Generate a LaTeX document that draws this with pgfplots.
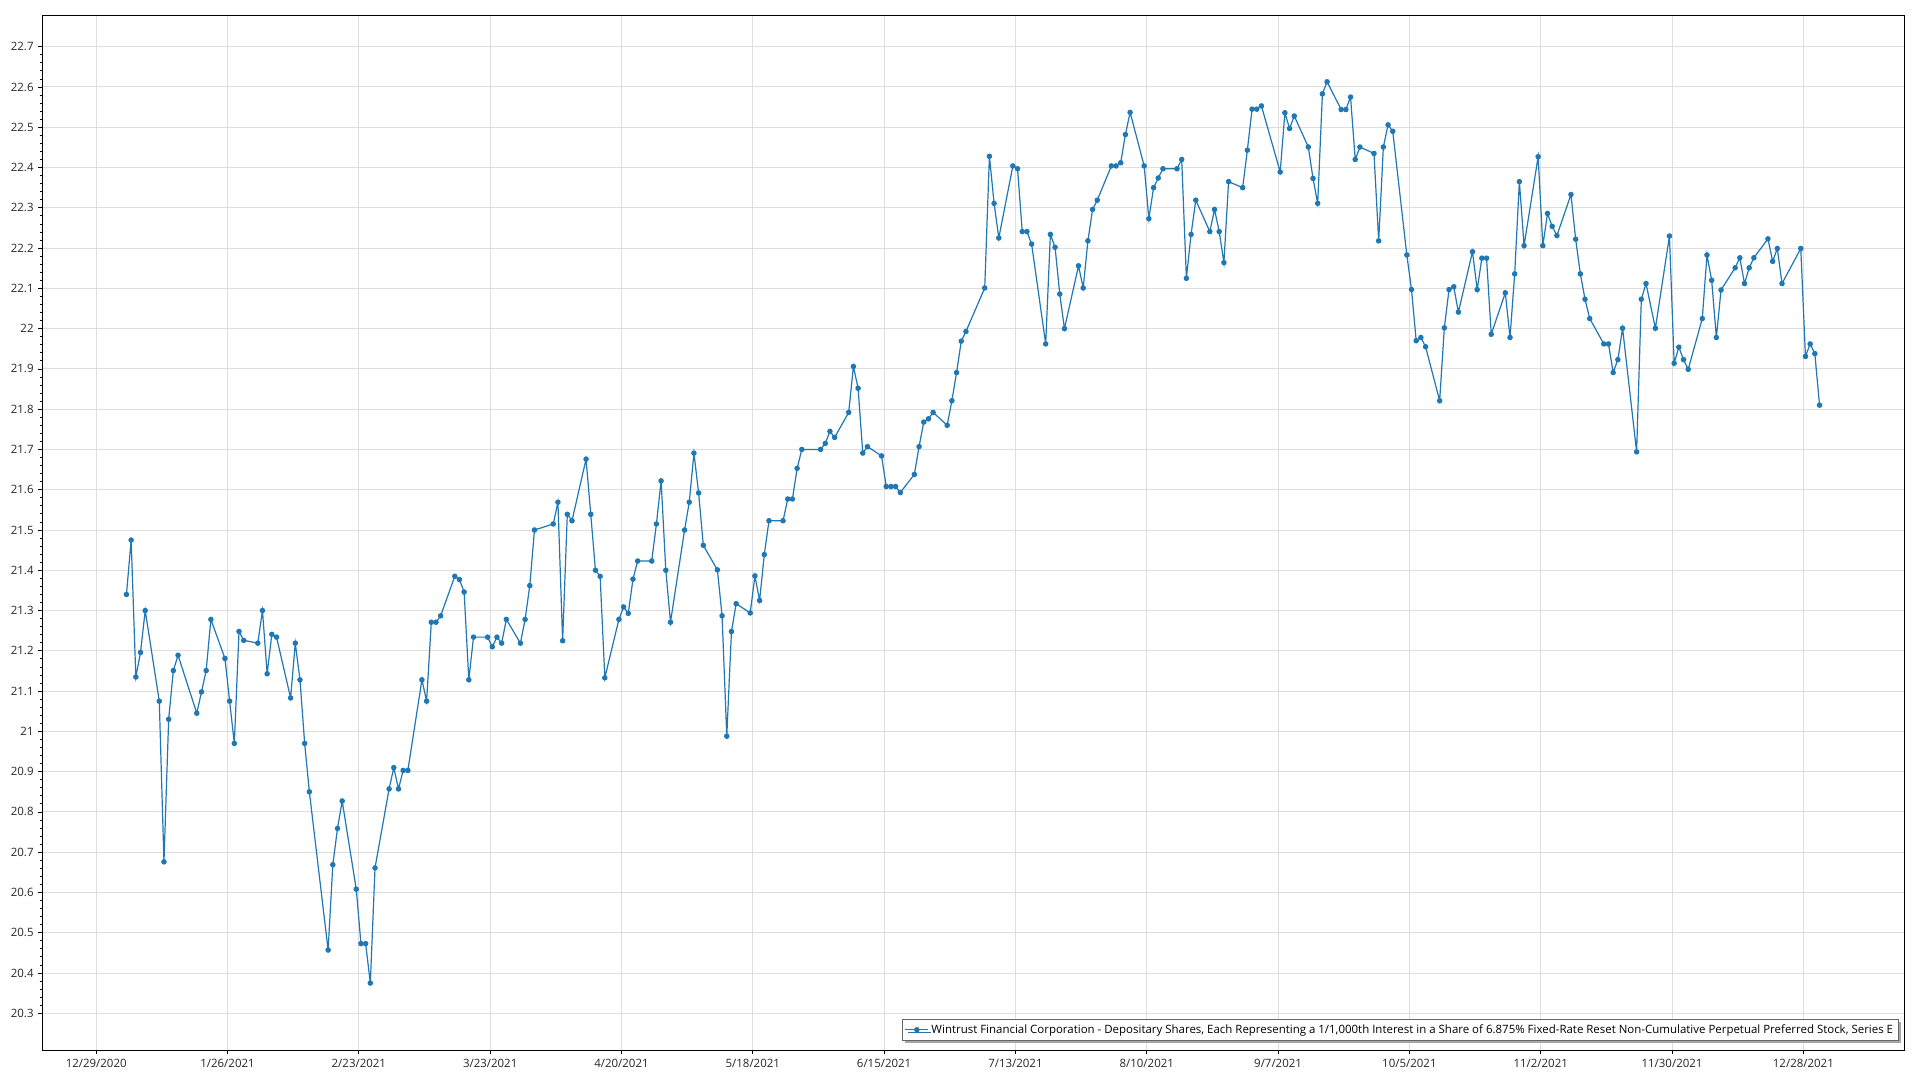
\documentclass[border=0pt]{standalone}
\usepackage{pgfplots}
\pgfplotsset{compat=1.18}
\usepackage{pgfplotstable}
\usepackage{fontspec}
\setmainfont{Open Sans}
\usetikzlibrary{shadows}
\definecolor{series}{RGB}{31,119,180}
\pgfplotstableread{
d v
6 21.34
7 21.475
8 21.135
9 21.196
10 21.30
13 21.075
14 20.676
15 21.03
16 21.151
17 21.189
21 21.045
22 21.098
23 21.151
24 21.278
27 21.181
28 21.075
29 20.97
30 21.248
31 21.226
34 21.219
35 21.30
36 21.143
37 21.241
38 21.234
41 21.083
42 21.219
43 21.128
44 20.97
45 20.85
49 20.457
50 20.669
51 20.759
52 20.827
55 20.608
56 20.473
57 20.473
58 20.375
59 20.661
62 20.857
63 20.91
64 20.857
65 20.903
66 20.903
69 21.128
70 21.075
71 21.271
72 21.271
73 21.287
76 21.385
77 21.377
78 21.346
79 21.128
80 21.234
83 21.234
84 21.21
85 21.234
86 21.219
87 21.278
90 21.219
91 21.278
92 21.362
93 21.50
97 21.515
98 21.569
99 21.225
100 21.539
101 21.523
104 21.676
105 21.539
106 21.40
107 21.385
108 21.133
111 21.278
112 21.309
113 21.293
114 21.378
115 21.423
118 21.423
119 21.515
120 21.622
121 21.40
122 21.271
125 21.50
126 21.569
127 21.691
128 21.592
129 21.462
132 21.401
133 21.287
134 20.988
135 21.248
136 21.317
139 21.294
140 21.386
141 21.325
142 21.439
143 21.523
146 21.523
147 21.577
148 21.577
149 21.653
150 21.70
154 21.70
155 21.715
156 21.745
157 21.73
160 21.792
161 21.906
162 21.852
163 21.691
164 21.707
167 21.684
168 21.608
169 21.608
170 21.608
171 21.593
174 21.638
175 21.707
176 21.768
177 21.776
178 21.792
181 21.76
182 21.821
183 21.891
184 21.969
185 21.993
189 22.101
190 22.428
191 22.311
192 22.225
195 22.404
196 22.397
197 22.241
198 22.241
199 22.21
202 21.962
203 22.234
204 22.202
205 22.086
206 22.00
209 22.156
210 22.101
211 22.218
212 22.296
213 22.319
216 22.404
217 22.404
218 22.412
219 22.482
220 22.537
223 22.404
224 22.273
225 22.35
226 22.374
227 22.397
230 22.397
231 22.42
232 22.125
233 22.234
234 22.319
237 22.241
238 22.296
239 22.241
240 22.164
241 22.365
244 22.35
245 22.443
246 22.545
247 22.545
248 22.553
252 22.389
253 22.536
254 22.497
255 22.528
258 22.451
259 22.373
260 22.311
261 22.583
262 22.613
265 22.544
266 22.544
267 22.575
268 22.42
269 22.451
272 22.435
273 22.218
274 22.451
275 22.506
276 22.49
279 22.183
280 22.097
281 21.97
282 21.978
283 21.955
286 21.821
287 22.002
288 22.097
289 22.104
290 22.041
293 22.191
294 22.097
295 22.175
296 22.175
297 21.986
300 22.089
301 21.978
302 22.136
303 22.365
304 22.206
307 22.427
308 22.206
309 22.286
310 22.254
311 22.231
314 22.333
315 22.222
316 22.136
317 22.073
318 22.025
321 21.962
322 21.962
323 21.891
324 21.923
325 22.001
328 21.694
329 22.073
330 22.112
332 22.001
335 22.23
336 21.914
337 21.954
338 21.923
339 21.899
342 22.025
343 22.183
344 22.12
345 21.978
346 22.096
349 22.151
350 22.176
351 22.112
352 22.151
353 22.176
356 22.223
357 22.167
358 22.199
359 22.112
363 22.199
364 21.931
365 21.962
366 21.938
367 21.81
}\prices
\begin{document}
\begin{tikzpicture}
\useasboundingbox (-31.7pt,-22.3pt) rectangle (1408.3pt,787.75pt);
\begin{axis}[
  at={(0,0)}, anchor=south west, scale only axis,
  width=1396.8pt, height=776.25pt,
  xmin=-11.95, xmax=385.15, ymin=20.208, ymax=22.778,
  xtick={-0.45,27.55,55.55,83.55,111.55,139.55,167.55,195.55,223.55,251.55,279.55,307.55,335.55,363.55},
  xticklabels={12/29/2020,1/26/2021,2/23/2021,3/23/2021,4/20/2021,5/18/2021,6/15/2021,7/13/2021,8/10/2021,9/7/2021,10/5/2021,11/2/2021,11/30/2021,12/28/2021},
  ytick={20.3,20.4,20.5,20.6,20.7,20.8,20.9,21,21.1,21.2,21.3,21.4,21.5,21.6,21.7,21.8,21.9,22,22.1,22.2,22.3,22.4,22.5,22.6,22.7},
  yticklabels={20.3,20.4,20.5,20.6,20.7,20.8,20.9,21,21.1,21.2,21.3,21.4,21.5,21.6,21.7,21.8,21.9,22,22.1,22.2,22.3,22.4,22.5,22.6,22.7},
  minor y tick num=4,
  grid=major,
  major grid style={draw=black!13, line width=0.75pt},
  axis line style={black, line width=0.8pt},
  tick style={black, line width=0.6pt},
  tick align=outside, tick pos=left,
  major tick length=3pt, minor tick length=2pt,
  ticklabel style={font=\fontsize{8.6}{10}\selectfont, text=black!85},
  /pgf/number format/assume math mode=true,
  legend style={at={(1,0)}, anchor=south east, xshift=-4.3pt, yshift=7pt,
    draw=black!60, line width=0.75pt, fill=white,
    drop shadow={shadow xshift=2pt, shadow yshift=-2pt, fill=black!35, opacity=1},
    font=\fontsize{8.6}{10}\selectfont, inner sep=2pt, row sep=0pt},
  legend cell align=left,
]
\addplot[series, line width=0.9pt, mark=*, mark size=1.6pt, mark options={solid, fill=series, draw=series}] table[x=d, y=v] {\prices};
\addlegendentry{Wintrust Financial Corporation - Depositary Shares, Each Representing a 1/1,000th Interest in a Share of 6.875\% Fixed-Rate Reset Non-Cumulative Perpetual Preferred Stock, Series E}
\end{axis}
\end{tikzpicture}
\end{document}
